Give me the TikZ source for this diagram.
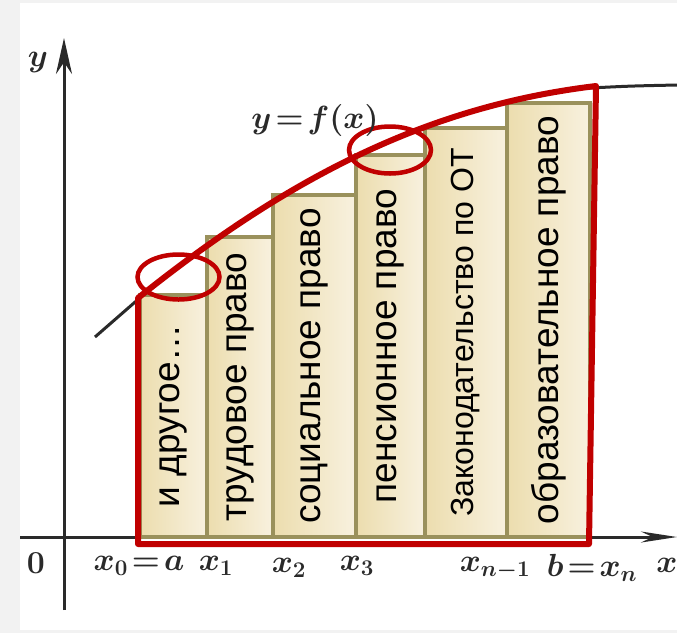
\documentclass[tikz,border=0pt]{standalone}
\usepackage{fix-cm}
\usepackage[no-math]{fontspec}
\usepackage{tikz}
\usetikzlibrary{arrows.meta, shapes.geometric}
\newfontfamily\barfont{Liberation Sans}
\definecolor{barolive}{HTML}{9A915C}
\definecolor{barlight}{HTML}{F8F1DF}
\definecolor{bardark}{HTML}{ECDDAE}
\definecolor{markred}{HTML}{C00000}
\definecolor{pagegray}{HTML}{F2F2F2}
\definecolor{inkgray}{HTML}{2A2A2A}

\begin{document}
\begin{tikzpicture}[
    x=1pt, y=-1pt,
    bar/.style={rectangle, draw=barolive, line width=3.5pt, left color=bardark, right color=barlight, rotate=90, inner sep=0pt, font=\barfont\fontsize{37}{37}\selectfont},
    lab/.style={text=inkgray, inner sep=0pt, font=\fontsize{32}{32}\selectfont\boldmath},
    axis/.style={draw=inkgray, line width=3pt},
    redline/.style={draw=markred, line width=6pt, line join=round},
    ring/.style={ellipse, draw=markred, line width=4.5pt, inner sep=0pt}
]

% Page
\fill[pagegray] (0,0) rectangle (677,633);
\fill[white] (20,3) rectangle (677,630);
\useasboundingbox (0,0) rectangle (677,633);

% Axes
\coordinate (ybot) at (64,610);
\coordinate (ytop) at (64,38);
\coordinate (xleft) at (20,537);
\coordinate (xright) at (677,537);
\draw[axis, -{Stealth[length=36pt, width=16pt]}] (ybot) -- (ytop);
\draw[axis, -{Stealth[length=36pt, width=11pt]}] (xleft) -- (xright);

% Curve y=f(x), parts outside the red outline
\coordinate (fstart) at (95,337);
\coordinate (fin) at (150,289);
\coordinate (fout) at (590,88);
\coordinate (fend) at (677,85);
\draw[axis] (fstart) -- (fin);
\draw[axis] (fout) .. controls (630,86) .. (fend);

% Bars
\node[bar, minimum width=242pt, minimum height=67pt] (bar1) at (173.5,416) {и другое…};
\node[bar, minimum width=300pt, minimum height=66pt] (bar2) at (240,387) {трудовое право};
\node[bar, minimum width=342pt, minimum height=83pt] (bar3) at (314.5,366) {социальное право};
\node[bar, minimum width=382pt, minimum height=69pt] (bar4) at (390.5,346) {пенсионное право};
\node[bar, minimum width=409pt, minimum height=82pt, font=\barfont\fontsize{32}{32}\selectfont] (bar5) at (466,332.5) {Законодательство по ОТ};
\node[bar, minimum width=434pt, minimum height=83pt] (bar6) at (548.5,320) {образовательное право};

% Red outline
\coordinate (rbl) at (138,544);
\coordinate (rtl) at (138,298);
\coordinate (rtr) at (596,86);
\coordinate (rbr) at (589,544);
\draw[redline] (rbl) -- (rtl) .. controls (288,178) and (426,106.4) .. (rtr) -- (rbr) -- cycle;

% Marks
\node[ring, minimum width=82pt, minimum height=45pt] (mark1) at (178.5,277) {};
\node[ring, minimum width=82pt, minimum height=47pt] (mark2) at (390,150) {};

% Labels
\node[lab] (ylab) at (38,62) {$y$};
\node[lab] (flab) at (315,120) {$y\!=\!f(x)$};
\node[lab] (olab) at (36,563) {$0$};
\node[lab] (x0lab) at (139,566) {$x_0\!=\!a$};
\node[lab] (x1lab) at (216,566) {$x_1$};
\node[lab] (x2lab) at (289,568) {$x_2$};
\node[lab] (x3lab) at (357,566) {$x_3$};
\node[lab] (xn1lab) at (495,568) {$x_{n-1}$};
\node[lab] (xnlab) at (592,568) {$b\!=\!x_n$};
\node[lab] (xlab) at (667,565) {$x$};

\end{tikzpicture}
\end{document}
